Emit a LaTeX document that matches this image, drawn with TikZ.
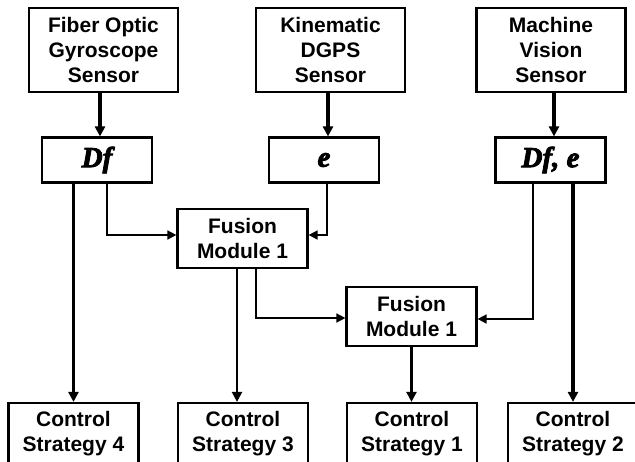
\documentclass[tikz,border=0pt]{standalone}
\usepackage{fontspec}
\setmainfont{Liberation Sans}
\newfontfamily\varfont[BoldItalicFeatures={FakeBold=3}]{Liberation Serif}
\usetikzlibrary{arrows.meta, positioning}

\begin{document}
\begin{tikzpicture}[
  x=1pt, y=-1pt,
  every node/.style={font=\fontsize{21}{25}\selectfont\bfseries},
  sensor/.style={
    rectangle, draw=black, line width=2.2pt,
    minimum width=149pt, minimum height=84pt,
    inner sep=0pt, align=center
  },
  reading/.style={
    rectangle, draw=black, line width=2.2pt,
    minimum width=110pt, minimum height=45pt,
    inner sep=0pt, align=center,
    font=\fontsize{29}{30}\varfont\bfseries\itshape
  },
  fusion/.style={
    rectangle, draw=black, line width=2.2pt,
    minimum width=130pt, minimum height=59pt,
    inner sep=0pt, align=center
  },
  strategy/.style={
    rectangle, draw=black, line width=2.2pt,
    minimum width=130pt, minimum height=62pt,
    inner sep=0pt, align=center
  },
  arrow/.style={-{Triangle[length=10pt,width=10pt]}, line width=3.2pt},
  midarrow/.style={-{Triangle[length=10pt,width=10pt]}, line width=2.2pt},
  thinarrow/.style={-{Triangle[length=9pt,width=9pt]}, line width=1.6pt}
]

\useasboundingbox (0,0) rectangle (635,461);

\node[sensor]   (fog)  at (103.5,50) {Fiber Optic\\Gyroscope\\Sensor};
\node[sensor]   (kin)  at (330.5,50) {Kinematic\\DGPS\\Sensor};
\node[sensor]   (mv)   at (551,50)   {Machine\\Vision\\Sensor};

\node[reading]  (df)   at (97,160)    {Df};
\node[reading]  (e)    at (324,160)   {e};
\node[reading]  (dfe)  at (550.5,160) {Df, e};

\node[fusion]   (fus1) at (242.5,238.5) {Fusion\\Module 1};
\node[fusion]   (fus2) at (411.5,316.5) {Fusion\\Module 1};

\node[strategy] (cs4)  at (73.5,434) {Control\\Strategy 4};
\node[strategy] (cs3)  [right=37.3pt of cs4] {Control\\Strategy 3};
\node[strategy] (cs1)  [right=36.8pt of cs3] {Control\\Strategy 1};
\node[strategy] (cs2)  [right=28.8pt of cs1] {Control\\Strategy 2};

\draw[arrow] ([xshift=-3.5pt]fog.south) -- ([xshift=3pt]df.north);
\draw[arrow] ([xshift=-2.5pt]kin.south) -- ([xshift=4pt]e.north);
\draw[arrow] ([xshift=3pt]mv.south)     -- ([xshift=3.5pt]dfe.north);

\draw[arrow] (cs4.north |- df.south) -- (cs4.north);
\draw[thinarrow] ([xshift=10pt]df.south) |- ([yshift=3.5pt]fus1.west);
\draw[thinarrow] ([xshift=3pt]e.south)   |- ([yshift=3.5pt]fus1.east);

\draw[midarrow] ([xshift=-5.5pt]fus1.south) -- ([xshift=-5.5pt]fus1.south |- cs3.north);
\draw[thinarrow] ([xshift=13.5pt]fus1.south) |- ([yshift=-1.5pt]fus2.west);
\draw[thinarrow] ([xshift=-17.5pt]dfe.south) |- ([yshift=-2.5pt]fus2.east);

\draw[midarrow] (fus2) -- (fus2 |- cs1.north);
\draw[arrow] (cs2.north |- dfe.south) -- (cs2.north);

\end{tikzpicture}
\end{document}
